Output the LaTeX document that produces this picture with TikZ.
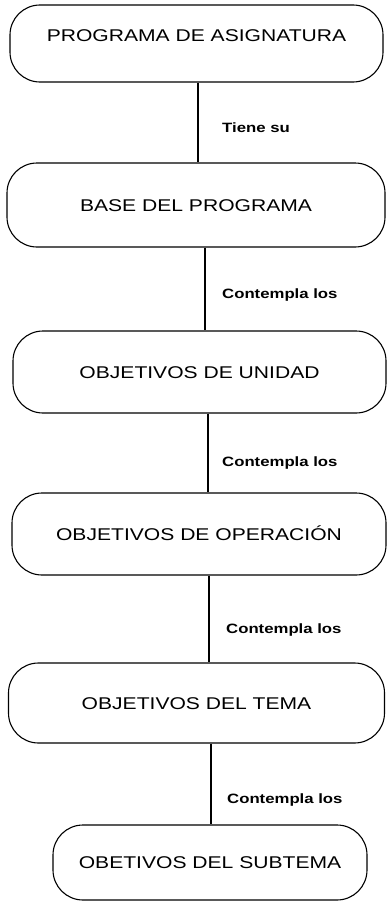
\documentclass[tikz,border=0pt]{standalone}
\usepackage{fontspec}
\setmainfont{Liberation Sans}[FakeStretch=1.24]
\usepackage{tikz}
\tikzset{
  box/.style={draw, line width=1.1pt, rounded corners=30pt, inner sep=0pt,
    text height=12pt, text depth=0pt, font=\fontsize{17}{20}\selectfont},
  rel/.style={anchor=west, inner sep=0pt, font=\fontsize{13.5}{16}\selectfont\bfseries},
  link/.style={line width=1.1pt}
}

\begin{document}
\begin{tikzpicture}[x=1pt, y=-1pt]
    \useasboundingbox (0,0) rectangle (386,902);
    % boxes
    \node[box, minimum width=373pt, minimum height=77pt, text height=36pt, text depth=41pt] (prog) at (196.5,43.5) {PROGRAMA DE ASIGNATURA};
    \node[box, minimum width=378pt, minimum height=84pt] (base) at (196,205) {BASE DEL PROGRAMA};
    \node[box, minimum width=373pt, minimum height=82pt] (unid) at (199.5,372) {OBJETIVOS DE UNIDAD};
    \node[box, minimum width=374pt, minimum height=82pt] (oper) at (199,534) {OBJETIVOS DE OPERACIÓN};
    \node[box, minimum width=376pt, minimum height=80pt] (tema) at (196.5,703) {OBJETIVOS DEL TEMA};
    \node[box, minimum width=314pt, minimum height=75pt] (subt) at (210,862.5) {OBETIVOS DEL SUBTEMA};
    % connectors
    \draw[link] ([xshift=1.5pt]prog.south) -- ([xshift=1.5pt]prog.south |- base.north);
    \draw[link] ([xshift=9pt]base.south) -- ([xshift=9pt]base.south |- unid.north);
    \draw[link] ([xshift=8.5pt]unid.south) -- ([xshift=8.5pt]unid.south |- oper.north);
    \draw[link] ([xshift=10pt]oper.south) -- ([xshift=10pt]oper.south |- tema.north);
    \draw[link] ([xshift=14.5pt]tema.south) -- ([xshift=14.5pt]tema.south |- subt.north);
    % labels
    \node[rel] (r1) at (222,128) {Tiene su};
    \node[rel] (r2) at (222,295) {Contempla los};
    \node[rel] (r3) at (222,463) {Contempla los};
    \node[rel] (r4) at (226,630) {Contempla los};
    \node[rel] (r5) at (227,800) {Contempla los};
\end{tikzpicture}
\end{document}
